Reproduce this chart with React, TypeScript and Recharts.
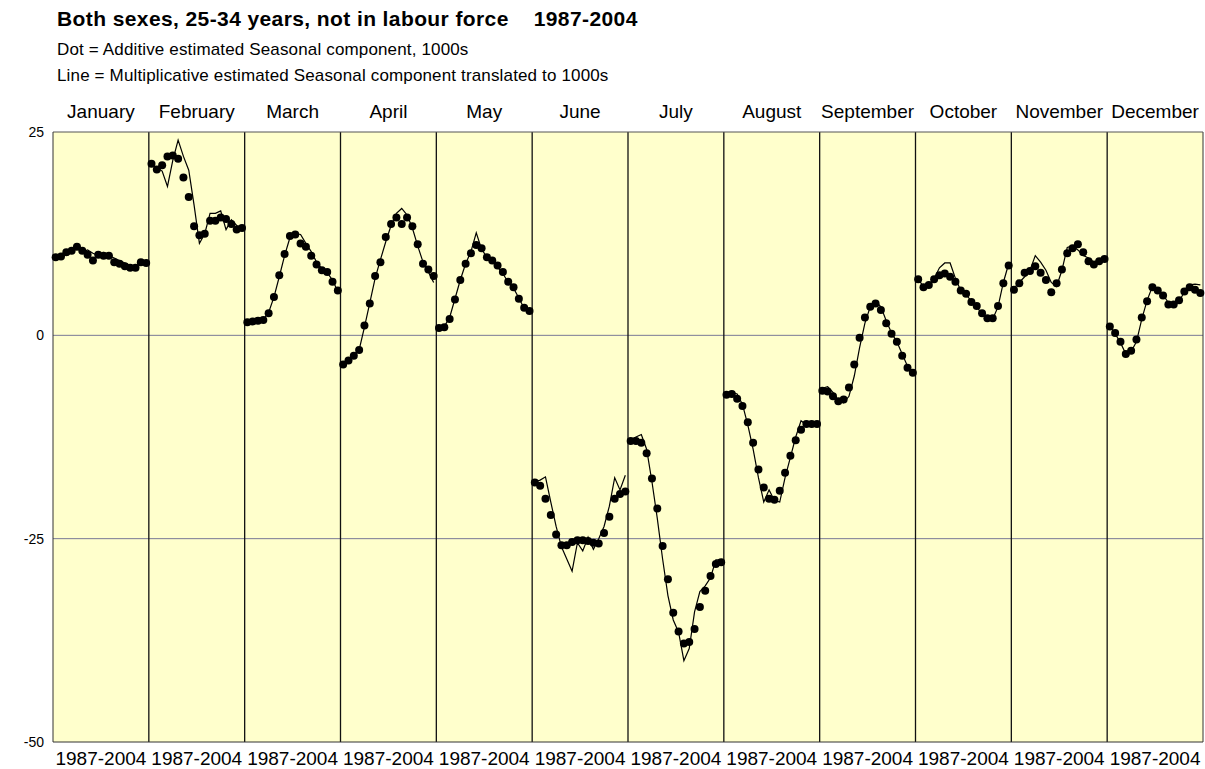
import React from "react";
import {
  ComposedChart,
  Line,
  XAxis,
  YAxis,
  ReferenceLine,
  ReferenceArea,
} from "recharts";

const months = [
  "January", "February", "March", "April", "May", "June",
  "July", "August", "September", "October", "November", "December",
];
const periodLabel = "1987-2004";
const yTicks = [-50, -25, 0, 25];

// Additive seasonal component (dots), 1000s, one value per year 1987-2004
const janAdd = [9.6, 9.7, 10.2, 10.4, 10.9, 10.4, 9.9, 9.2, 9.9, 9.8, 9.8, 9.0, 8.8, 8.5, 8.3, 8.3, 9.0, 8.9];
const febAdd = [21.1, 20.4, 20.9, 22.0, 22.1, 21.7, 19.4, 17.0, 13.4, 12.3, 12.5, 14.1, 14.1, 14.5, 14.3, 13.7, 13.0, 13.2];
const marAdd = [1.6, 1.7, 1.8, 1.9, 2.7, 4.7, 7.4, 10.0, 12.2, 12.4, 11.3, 10.9, 9.8, 8.7, 8.0, 7.8, 6.6, 5.5];
const aprAdd = [-3.6, -3.1, -2.5, -1.8, 1.2, 3.9, 7.3, 9.0, 12.1, 13.7, 14.5, 13.7, 14.5, 13.4, 11.2, 8.8, 8.1, 7.3];
const mayAdd = [0.9, 1.0, 2.0, 4.4, 6.8, 8.8, 10.1, 11.1, 10.7, 9.6, 9.2, 8.6, 7.8, 6.6, 5.9, 4.5, 3.4, 3.0];
const junAdd = [-18.1, -18.5, -20.1, -22.1, -24.5, -25.8, -25.8, -25.4, -25.2, -25.2, -25.3, -25.5, -25.6, -24.3, -22.3, -20.1, -19.5, -19.2];
const julAdd = [-13.0, -13.0, -13.2, -14.5, -17.6, -21.3, -25.9, -30.0, -34.1, -36.4, -37.9, -37.7, -36.1, -33.4, -31.4, -29.6, -28.1, -27.9];
const augAdd = [-7.3, -7.2, -7.8, -8.7, -10.7, -13.2, -16.5, -18.7, -20.1, -20.2, -19.1, -16.9, -14.8, -12.9, -11.6, -10.9, -10.9, -10.9];
const sepAdd = [-6.8, -6.9, -7.5, -8.1, -7.9, -6.4, -3.6, -0.3, 2.2, 3.5, 3.9, 3.1, 1.5, 0.2, -0.8, -2.5, -4.0, -4.6];
const octAdd = [6.9, 5.9, 6.2, 6.9, 7.4, 7.6, 7.2, 6.6, 5.5, 5.1, 4.1, 3.6, 2.7, 2.1, 2.1, 3.6, 6.4, 8.6];
const novAdd = [5.6, 6.4, 7.7, 7.9, 8.5, 7.7, 6.8, 5.3, 6.4, 8.1, 10.1, 10.7, 11.2, 10.2, 9.1, 8.7, 9.1, 9.4];
const decAdd = [1.1, 0.3, -0.8, -2.3, -1.9, -0.5, 2.2, 4.2, 5.9, 5.5, 4.9, 3.8, 3.8, 4.3, 5.4, 5.9, 5.6, 5.2];

// Multiplicative seasonal component translated to 1000s (line)
const janMul = [9.5, 9.7, 10.2, 10.3, 10.9, 10.2, 10.5, 10.1, 9.8, 10.2, 9.8, 9.5, 9.2, 8.9, 8.6, 8.5, 8.9, 8.9];
const febMul = [21.0, 20.6, 20.2, 18.3, 21.5, 24.0, 22.0, 20.3, 16.0, 11.3, 12.5, 15.0, 15.0, 15.3, 13.0, 14.2, 13.5, 13.3];
const marMul = [1.7, 1.8, 1.9, 2.0, 2.8, 4.7, 7.2, 9.8, 12.0, 12.5, 12.4, 11.3, 10.3, 9.0, 8.2, 7.7, 6.8, 5.4];
const aprMul = [-3.6, -3.0, -2.4, -1.8, 1.0, 4.0, 7.0, 9.3, 11.5, 13.5, 15.0, 15.6, 14.8, 13.2, 11.0, 9.0, 7.8, 6.5];
const mayMul = [1.0, 1.1, 2.2, 4.5, 6.8, 8.8, 10.3, 12.6, 10.6, 9.6, 9.0, 8.4, 7.6, 6.5, 5.8, 4.6, 3.3, 2.7];
const junMul = [-18.0, -17.8, -17.4, -20.5, -23.5, -26.0, -27.5, -29.0, -25.5, -26.5, -24.8, -26.3, -25.0, -23.5, -21.0, -17.5, -19.0, -17.2];
const julMul = [-12.8, -12.5, -12.2, -14.0, -18.0, -22.5, -27.5, -32.0, -35.0, -36.5, -40.0, -38.5, -34.0, -31.5, -30.8, -29.8, -27.6, -27.6];
const augMul = [-7.0, -7.0, -7.2, -8.5, -11.0, -14.0, -17.5, -20.5, -19.0, -20.3, -20.5, -17.5, -15.0, -12.5, -10.5, -11.0, -11.0, -11.0];
const sepMul = [-6.5, -6.3, -7.0, -8.0, -8.3, -7.5, -5.0, -1.5, 1.5, 3.5, 4.2, 3.5, 1.8, 0.3, -0.8, -2.3, -3.8, -4.8];
const octMul = [6.9, 6.0, 6.2, 7.0, 8.3, 8.9, 8.9, 7.0, 5.5, 5.0, 4.2, 3.5, 2.6, 2.0, 2.0, 3.5, 6.5, 8.8];
const novMul = [5.8, 6.5, 7.2, 8.0, 9.8, 9.0, 8.0, 6.5, 6.0, 8.0, 10.8, 11.0, 10.5, 9.8, 9.5, 9.0, 9.3, 9.7];
const decMul = [1.2, 0.2, -0.9, -2.3, -2.0, -0.8, 2.0, 4.3, 6.0, 5.7, 5.0, 4.0, 3.8, 4.2, 5.3, 6.2, 6.3, 6.2];

const additive = [janAdd, febAdd, marAdd, aprAdd, mayAdd, junAdd, julAdd, augAdd, sepAdd, octAdd, novAdd, decAdd];
const multiplicative = [janMul, febMul, marMul, aprMul, mayMul, junMul, julMul, augMul, sepMul, octMul, novMul, decMul];

const YEARS = 18;
const SPAN = YEARS * months.length;

// one row per month/year, plus an empty row at each divider so the line breaks
const rows: { x: number; add: number | null; mul: number | null }[] = [];
months.forEach((_, i) => {
  if (i > 0) rows.push({ x: i * YEARS, add: null, mul: null });
  additive[i].forEach((v, j) => {
    rows.push({ x: i * YEARS + j + 0.5, add: v, mul: multiplicative[i][j] });
  });
});

const centers = months.map((_, i) => i * YEARS + YEARS / 2);
const dividers = months.slice(1).map((_, i) => (i + 1) * YEARS);

const font = "'Liberation Sans', Arial, sans-serif";

export default function App() {
  return (
    <div
      style={{
        position: "absolute",
        left: 0,
        top: 0,
        width: 1205,
        height: 769,
        background: "#fff",
        fontFamily: font,
        color: "#000",
      }}
    >
      <div
        style={{
          position: "absolute",
          left: 57,
          top: 7,
          fontSize: 21,
          fontWeight: "bold",
          letterSpacing: 0.4,
          whiteSpace: "pre",
        }}
      >
        {"Both sexes, 25-34 years, not in labour force    1987-2004"}
      </div>
      <div style={{ position: "absolute", left: 57, top: 40, fontSize: 17, letterSpacing: 0.15 }}>
        Dot = Additive estimated Seasonal component, 1000s
      </div>
      <div style={{ position: "absolute", left: 57, top: 66, fontSize: 17, letterSpacing: 0.15 }}>
        Line = Multiplicative estimated Seasonal component translated to 1000s
      </div>
      <div style={{ position: "absolute", left: 0, top: 0 }}>
        <ComposedChart
          width={1205}
          height={769}
          data={rows}
          margin={{ top: 102, right: 2, bottom: 0, left: 8 }}
        >
          <XAxis
            xAxisId="bottom"
            type="number"
            dataKey="x"
            domain={[0, SPAN]}
            ticks={centers}
            interval={0}
            tickFormatter={() => periodLabel}
            height={27}
            tickLine={false}
            tickMargin={4}
            axisLine={{ stroke: "#333" }}
            tick={{ fill: "#000", fontSize: 19, fontFamily: font }}
          />
          <XAxis
            xAxisId="top"
            orientation="top"
            type="number"
            dataKey="x"
            domain={[0, SPAN]}
            ticks={centers}
            interval={0}
            tickFormatter={(v: number) => months[Math.floor(v / YEARS)]}
            height={30}
            tickLine={false}
            tickMargin={8}
            axisLine={{ stroke: "#555" }}
            tick={{ fill: "#000", fontSize: 19, fontFamily: font }}
          />
          <YAxis
            type="number"
            domain={[-50, 25]}
            ticks={yTicks}
            interval={0}
            width={45}
            tickLine={false}
            tickMargin={3}
            axisLine={{ stroke: "#333" }}
            tick={{ fill: "#000", fontSize: 14, fontFamily: font }}
          />
          <ReferenceArea
            xAxisId="bottom"
            x1={0}
            x2={SPAN}
            y1={-50}
            y2={25}
            fill="#FFFFCC"
            fillOpacity={1}
            stroke="none"
          />
          <ReferenceLine xAxisId="bottom" y={0} stroke="#7a7a96" />
          <ReferenceLine xAxisId="bottom" y={-25} stroke="#7a7a96" />
          {dividers.map((d) => (
            <ReferenceLine key={d} xAxisId="bottom" x={d} stroke="#111" strokeWidth={1.3} />
          ))}
          <ReferenceLine xAxisId="bottom" x={SPAN} stroke="#333" />
          <Line
            xAxisId="bottom"
            dataKey="add"
            stroke="none"
            dot={{ r: 4, fill: "#000", stroke: "#000", strokeWidth: 0 }}
            activeDot={false}
            isAnimationActive={false}
          />
          <Line
            xAxisId="bottom"
            dataKey="mul"
            type="linear"
            stroke="#000"
            strokeWidth={1.2}
            dot={false}
            activeDot={false}
            connectNulls={false}
            isAnimationActive={false}
          />
        </ComposedChart>
      </div>
    </div>
  );
}
